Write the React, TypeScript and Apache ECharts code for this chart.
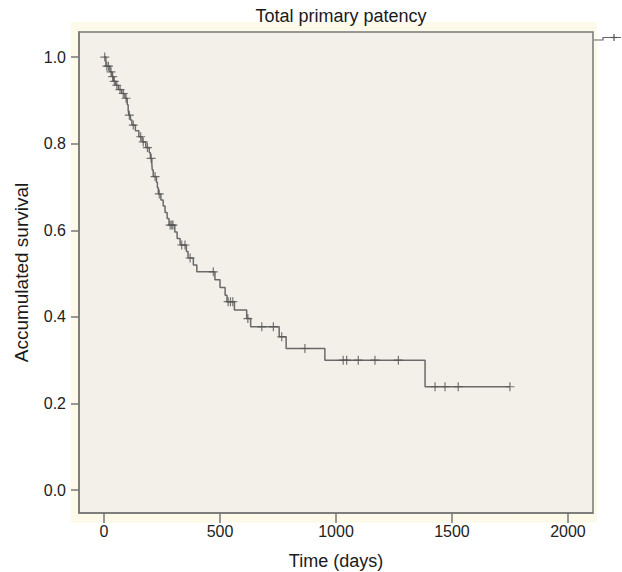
import React, { useEffect, useRef } from "react";
import * as echarts from "echarts";

// Kaplan-Meier events: [day, survival after event]
const eventDays = [0, 8, 25, 34, 41, 50, 62, 76, 90, 100, 104, 107, 114, 120, 135, 150, 164, 180, 195, 200, 206, 208, 212, 226, 230, 234, 245, 255, 263, 272, 280, 305, 315, 328, 355, 362, 385, 400, 478, 500, 522, 530, 562, 615, 632, 755, 785, 952, 1384, 1750];
const eventSurv = [1.0, 0.979, 0.966, 0.955, 0.944, 0.935, 0.925, 0.916, 0.905, 0.89, 0.878, 0.866, 0.855, 0.843, 0.83, 0.816, 0.804, 0.791, 0.779, 0.766, 0.753, 0.739, 0.724, 0.711, 0.698, 0.684, 0.67, 0.656, 0.641, 0.627, 0.612, 0.596, 0.581, 0.566, 0.551, 0.536, 0.52, 0.504, 0.486, 0.468, 0.45, 0.435, 0.416, 0.396, 0.377, 0.354, 0.327, 0.3, 0.2386, 0.2386];

// Censored observations: [day, survival at censoring]
const censorDays = [3, 12, 19, 30, 37, 44, 55, 69, 83, 95, 109, 126, 158, 169, 187, 203, 220, 238, 285, 292, 297, 335, 349, 371, 471, 535, 545, 555, 620, 680, 730, 766, 866, 1031, 1046, 1096, 1168, 1269, 1427, 1470, 1527, 1750];
const censorSurv = [1.0, 0.979, 0.979, 0.966, 0.955, 0.944, 0.935, 0.925, 0.916, 0.905, 0.866, 0.843, 0.816, 0.804, 0.791, 0.766, 0.724, 0.684, 0.612, 0.612, 0.612, 0.566, 0.566, 0.536, 0.504, 0.435, 0.435, 0.435, 0.396, 0.377, 0.377, 0.354, 0.327, 0.3, 0.3, 0.3, 0.3, 0.3, 0.2386, 0.2386, 0.2386, 0.2386];

const xTicks = [0, 500, 1000, 1500, 2000];
const yTicks = [0, 0.2, 0.4, 0.6, 0.8, 1.0];

const titleText = "Total primary patency";
const xName = "Time (days)";
const yName = "Accumulated survival";

const FONT = "'Liberation Sans', Arial, sans-serif";
const CROSS = "path://M5,0L5,10M0,5L10,5";

export default function App() {
  const ref = useRef<HTMLDivElement>(null);
  useEffect(() => {
    if (!ref.current) return;
    const chart = echarts.init(ref.current, null, { renderer: "svg" });
    const lineData = eventDays.map((d, i) => [d, eventSurv[i]]);
    const censorData = censorDays.map((d, i) => [d, censorSurv[i]]);
    chart.setOption({
      animation: false,
      title: {
        text: titleText,
        left: 336,
        textAlign: "center",
        top: 2,
        textStyle: { fontFamily: FONT, fontSize: 18, fontWeight: "normal", color: "#1a1a1a" },
      },
      grid: {
        left: 79,
        top: 32,
        right: 29,
        bottom: 59,
        outerBoundsMode: "none",
        containLabel: false,
        show: true,
        backgroundColor: "#f3f0e9",
        borderColor: "#777",
        borderWidth: 1.5,
      },
      xAxis: {
        type: "value",
        min: -108,
        max: 2108,
        name: xName,
        nameLocation: "middle",
        nameGap: 39,
        nameTextStyle: { fontFamily: FONT, fontSize: 18, color: "#1a1a1a", lineHeight: 18 },
        axisLine: { show: true, onZero: false, lineStyle: { color: "#777", width: 1.5 } },
        axisTick: { show: true, length: 10, customValues: xTicks, lineStyle: { color: "#777", width: 1.5 } },
        axisLabel: {
          customValues: xTicks,
          margin: 10,
          fontFamily: FONT,
          fontSize: 16,
          color: "#222",
          formatter: (v: number) => String(v),
        },
        splitLine: { show: false },
      },
      yAxis: {
        type: "value",
        min: -0.053,
        max: 1.058,
        name: yName,
        nameLocation: "middle",
        nameGap: 48,
        nameRotate: 90,
        nameTextStyle: { fontFamily: FONT, fontSize: 19, color: "#1a1a1a" },
        axisLine: { show: true, onZero: false, lineStyle: { color: "#777", width: 1.5 } },
        axisTick: { show: true, length: 8, customValues: yTicks, lineStyle: { color: "#777", width: 1.5 } },
        axisLabel: {
          customValues: yTicks,
          margin: 13,
          fontFamily: FONT,
          fontSize: 16,
          color: "#222",
          formatter: (v: number) => v.toFixed(1),
        },
        splitLine: { show: false },
      },
      graphic: [
        {
          type: "polyline",
          silent: true,
          shape: { points: [[594, 40], [603, 40], [603, 37.5], [621, 37.5]] },
          style: { stroke: "#666", lineWidth: 1.2, fill: "none" },
        },
        {
          type: "line",
          silent: true,
          shape: { x1: 614, y1: 34, x2: 614, y2: 41 },
          style: { stroke: "#555", lineWidth: 1.2 },
        },
        {
          type: "line",
          silent: true,
          shape: { x1: 610.5, y1: 37.5, x2: 617.5, y2: 37.5 },
          style: { stroke: "#555", lineWidth: 1.2 },
        },
      ],
      series: [
        {
          type: "line",
          step: "end",
          data: lineData,
          showSymbol: false,
          lineStyle: { color: "#6a6a6a", width: 1.5 },
          z: 2,
        },
        {
          type: "scatter",
          data: censorData,
          symbol: CROSS,
          symbolSize: 9,
          itemStyle: { color: "none", borderColor: "#555", borderWidth: 1.2 },
          z: 3,
        },
      ],
    });
    return () => chart.dispose();
  }, []);
  return (
    <div style={{ position: "fixed", left: 0, top: 0, width: 622, height: 572, background: "#ffffff" }}>
      <div style={{ position: "absolute", left: 71, top: 22, width: 526, height: 501, background: "#fdfaea" }} />
      <div ref={ref} style={{ position: "absolute", left: 0, top: 0, width: 622, height: 572 }} />
    </div>
  );
}
